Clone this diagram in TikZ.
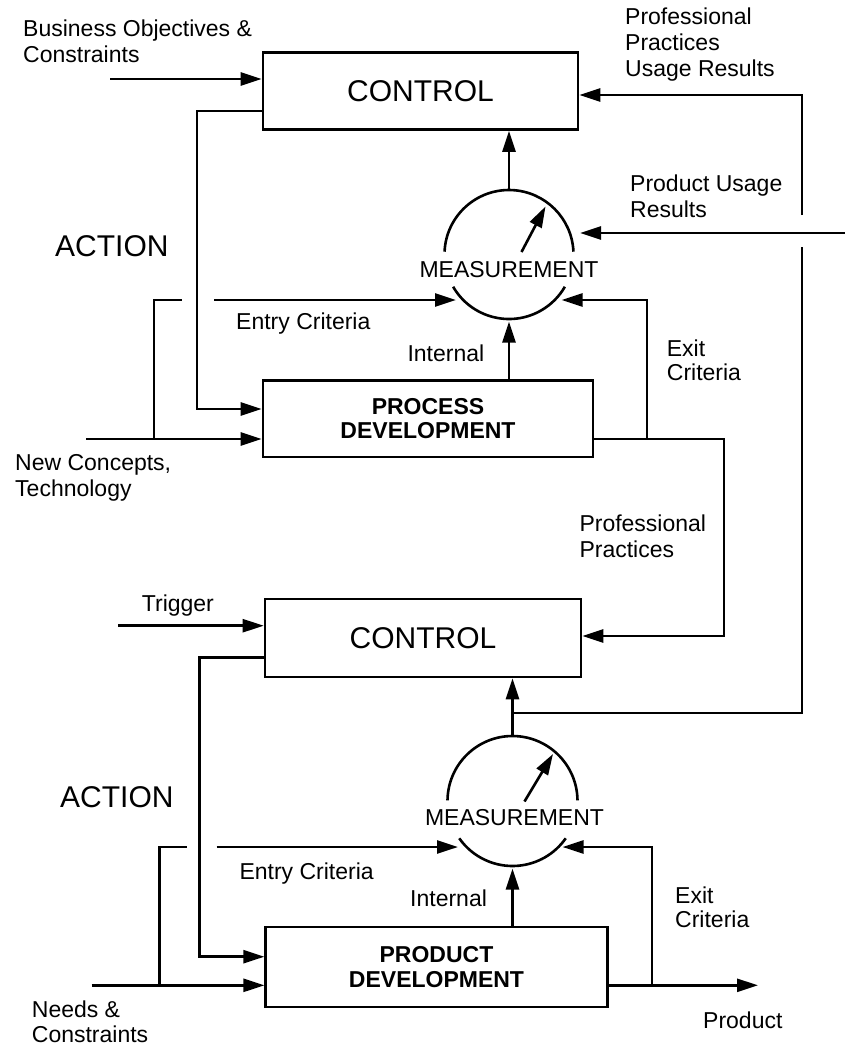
\documentclass[tikz,border=0pt]{standalone}
\usepackage{fontspec}
\setmainfont{Liberation Sans}
\usetikzlibrary{arrows.meta,calc}
\begin{document}
\begin{tikzpicture}[x=1pt,y=-1pt]
\tikzset{
  wire/.style={line width=2.6pt},
  arr/.style={wire, -{Triangle[length=21pt,width=13pt]}},
  blk/.style={draw, line width=2.6pt, rectangle, inner sep=0pt},
  lbl/.style={inner sep=0pt, anchor=north west, align=left, font=\fontsize{23}{26}\selectfont},
  big/.style={font=\fontsize{30}{34}\selectfont},
  boldtxt/.style={align=center, font=\fontsize{23}{24}\selectfont\bfseries},
  dial/.style={circle, inner sep=0pt, outer sep=0pt},
}
\useasboundingbox (0,0) rectangle (845,1045);

% ---------- blocks ----------
\node[blk, big, minimum width=315pt, minimum height=77pt] (ctl1) at (420.5,91) {CONTROL};
\node[blk, boldtxt, minimum width=330pt, minimum height=76.5pt] (dev1) at (428,418.7) {PROCESS\\DEVELOPMENT};
\node[blk, big, minimum width=316pt, minimum height=78pt] (ctl2) at (423,638) {CONTROL};
\node[blk, boldtxt, font=\fontsize{23}{25}\selectfont\bfseries, minimum width=341.6pt, minimum height=80pt] (dev2) at (436.5,967) {PRODUCT\\DEVELOPMENT};

% ---------- measurement dials ----------
\node[dial, minimum size=129pt] (m1) at (509,254.5) {};
\node[dial, minimum size=130pt] (m2) at (512.5,801) {};
\draw[wire] (m1.center) ++(182.5:64.5) arc[start angle=182.5, end angle=357.5, radius=64.5];
\draw[wire] (m1.center) ++(150:64.5) arc[start angle=150, end angle=30, radius=64.5];
\draw[wire] (m2.center) ++(180.5:65) arc[start angle=180.5, end angle=359.5, radius=65];
\draw[wire] (m2.center) ++(145:65) arc[start angle=145, end angle=35, radius=65];
\node[lbl, anchor=center] (mt1) at ($(m1)+(0,15.5)$) {MEASUREMENT};
\node[lbl, anchor=center] (mt2) at ($(m2)+(2,17)$) {MEASUREMENT};
\coordinate (n1a) at ($(m1)+(12.5,-2.5)$);
\coordinate (n1b) at ($(m1)+(36.5,-48)$);
\coordinate (n2a) at ($(m2)+(12,0.5)$);
\coordinate (n2b) at ($(m2)+(40.5,-47)$);
\draw[arr] (n1a) -- (n1b);
\draw[arr] (n2a) -- (n2b);

% ---------- upper loop ----------
\coordinate (bo) at (110,79);
\draw[arr] (bo) -- (bo -| ctl1.west);

\coordinate (actA) at (197,111);
\coordinate (actB) at (197,409);
\draw[arr] (actA -| ctl1.west) -- (actA) -- (actB) -- (actB -| dev1.west);

\coordinate (nc) at (86,439);
\coordinate (ncB) at (154,439);
\coordinate (ecA) at (154,300);
\coordinate (ecG1) at (182,300);
\coordinate (ecG2) at (214,300);
\coordinate (m1in) at ($(m1)+(-53,45.5)$);
\draw[arr] (nc) -- (nc -| dev1.west);
\draw[wire] (ncB) -- (ecA) -- (ecG1);
\draw[arr] (ecG2) -- (m1in);

\draw[arr, shorten >=2.5pt] (dev1.north -| m1) -- (m1.south);
\draw[arr] (m1.north) -- (ctl1.south -| m1);

\coordinate (xA) at (647,439);
\coordinate (xB) at (647,300);
\coordinate (m1out) at ($(m1)+(52.5,45.5)$);
\coordinate (pp) at (724,439);
\coordinate (ppB) at (724,636);
\draw[arr] (pp -| dev1.east) -- (pp) -- (ppB) -- (ppB -| ctl2.east);
\draw[arr] (xA) -- (xB) -- (m1out);

\coordinate (pu) at (845,233);
\coordinate (m1pu) at ($(m1)+(71,-21.5)$);
\draw[arr] (pu) -- (m1pu);

% ---------- feedback to upper control ----------
\coordinate (fbB) at (802,713);
\coordinate (fbG1) at (802,247);
\coordinate (fbG2) at (802,215);
\coordinate (fbT) at (802,95);
\draw[wire] (m2.north |- fbB) -- (fbB) -- (fbG1);
\draw[arr] (fbG2) -- (fbT) -- (fbT -| ctl1.east);

% ---------- lower loop ----------
\draw[arr] (m2.north) -- (ctl2.south -| m2);

\coordinate (tr) at (118,625.7);
\draw[arr] (tr) -- (tr -| ctl2.west);

\coordinate (actC) at (199.3,657.7);
\coordinate (actD) at (199.3,956.7);
\draw[arr] (actC -| ctl2.west) -- (actC) -- (actD) -- (actD -| dev2.west);

\coordinate (nd) at (91.7,985.3);
\coordinate (ndB) at (159.3,985.3);
\coordinate (ecC) at (159.3,847);
\coordinate (ecG3) at (186.7,847);
\coordinate (ecG4) at (216.7,847);
\coordinate (m2in) at ($(m2)+(-54.5,46)$);
\draw[arr] (nd) -- (nd -| dev2.west);
\draw[wire] (ndB) -- (ecC) -- (ecG3);
\draw[arr] (ecG4) -- (m2in);

\draw[arr, shorten >=2.5pt] (dev2.north -| m2) -- (m2.south);

\coordinate (xC) at (652,985.3);
\coordinate (xD) at (652,847);
\coordinate (m2out) at ($(m2)+(50,46)$);
\coordinate (prod) at (758,985.3);
\draw[arr] (prod -| dev2.east) -- (prod);
\draw[arr] (xC) -- (xD) -- (m2out);

% ---------- labels ----------
\node[lbl] (lbo) at (23,20) {Business Objectives \&\\Constraints};
\node[lbl] (lppu) at (625,7.3) {Professional\\Practices\\Usage Results};
\node[lbl] (lpu) at (630,175) {Product Usage\\Results};
\node[lbl, big] (lact1) at (55,235) {ACTION};
\node[lbl] (lent1) at (236,313) {Entry Criteria};
\node[lbl] (lint1) at (407.3,345) {Internal};
\node[lbl, font=\fontsize{23}{23.5}\selectfont] (lex1) at (666.7,340) {Exit\\Criteria};
\node[lbl] (lnc) at (15,454.3) {New Concepts,\\Technology};
\node[lbl] (lpp) at (579.3,515) {Professional\\Practices};
\node[lbl] (ltr) at (141.7,595) {Trigger};
\node[lbl, big] (lact2) at (60,786.7) {ACTION};
\node[lbl] (lent2) at (239.3,863) {Entry Criteria};
\node[lbl] (lint2) at (410,890) {Internal};
\node[lbl, font=\fontsize{23}{23.5}\selectfont] (lex2) at (675,886.7) {Exit\\Criteria};
\node[lbl, font=\fontsize{23}{24.5}\selectfont] (lnd) at (31.7,1000.7) {Needs \&\\Constraints};
\node[lbl] (lprod) at (703,1011.7) {Product};
\end{tikzpicture}
\end{document}
